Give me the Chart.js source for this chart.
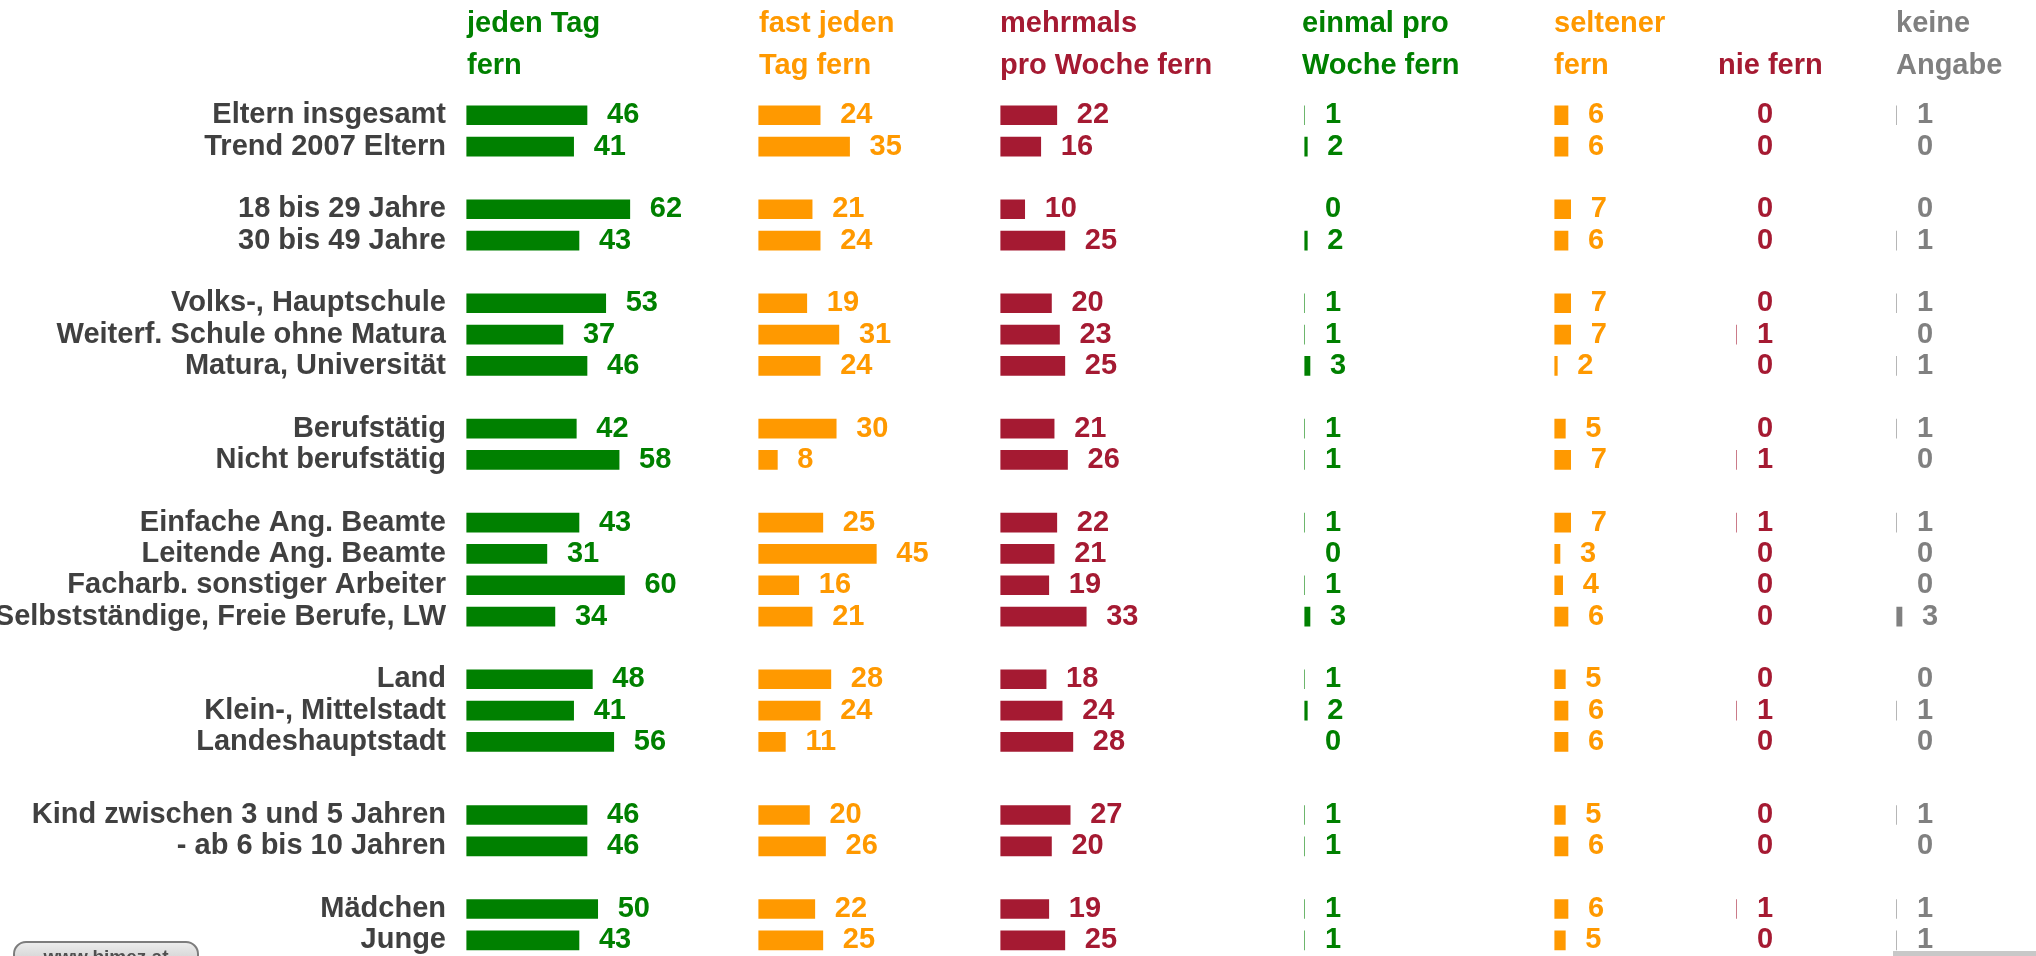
<!DOCTYPE html>
<html>
<head>
<meta charset="utf-8">
<script src="https://cdn.jsdelivr.net/npm/chart.js@4.4.1/dist/chart.umd.min.js"></script>
<style>
  html, body { margin: 0; padding: 0; background: #ffffff; overflow: hidden; }
  #wrap { position: relative; width: 2036px; height: 956px; overflow: hidden; }
  #c { position: absolute; left: 0; top: 0; }
  .btn { position: absolute; left: 13px; top: 941px; width: 186px; height: 40px; box-sizing: border-box;
         border: 2px solid #7d7d7d; border-radius: 13px; background: linear-gradient(#ececec, #b9b9b9);
         font: bold 19px "Liberation Sans", Arial, sans-serif; color: #505050; text-align: center; padding-top: 3px; }
  .strip { position: absolute; left: 1893px; top: 951px; width: 143px; height: 5px; background: #c8c8c8; }
</style>
</head>
<body>
<div id="wrap">
  <canvas id="c" width="2036" height="956"></canvas>
  <div class="btn">www.bimez.at</div>
  <div class="strip"></div>
</div>
<script>
// ---------- data ----------
const categories = [
  "Eltern insgesamt", "Trend 2007 Eltern",
  "18 bis 29 Jahre", "30 bis 49 Jahre",
  "Volks-, Hauptschule", "Weiterf. Schule ohne Matura", "Matura, Universität",
  "Berufstätig", "Nicht berufstätig",
  "Einfache Ang. Beamte", "Leitende Ang. Beamte", "Facharb. sonstiger Arbeiter", "Selbstständige, Freie Berufe, LW",
  "Land", "Klein-, Mittelstadt", "Landeshauptstadt",
  "Kind zwischen 3 und 5 Jahren", "- ab 6 bis 10 Jahren",
  "Mädchen", "Junge"
];
const groupSizes = [2, 2, 3, 2, 4, 3, 2, 2];

const seriesTitles = [
  ["jeden Tag", "fern"],
  ["fast jeden", "Tag fern"],
  ["mehrmals", "pro Woche fern"],
  ["einmal pro", "Woche fern"],
  ["seltener", "fern"],
  ["", "nie fern"],
  ["keine", "Angabe"]
];

const jedenTag      = [46, 41, 62, 43, 53, 37, 46, 42, 58, 43, 31, 60, 34, 48, 41, 56, 46, 46, 50, 43];
const fastJedenTag  = [24, 35, 21, 24, 19, 31, 24, 30,  8, 25, 45, 16, 21, 28, 24, 11, 20, 26, 22, 25];
const mehrmalsWoche = [22, 16, 10, 25, 20, 23, 25, 21, 26, 22, 21, 19, 33, 18, 24, 28, 27, 20, 19, 25];
const einmalWoche   = [ 1,  2,  0,  2,  1,  1,  3,  1,  1,  1,  0,  1,  3,  1,  2,  0,  1,  1,  1,  1];
const seltener      = [ 6,  6,  7,  6,  7,  7,  2,  5,  7,  7,  3,  4,  6,  5,  6,  6,  5,  6,  6,  5];
const nieFern       = [ 0,  0,  0,  0,  0,  1,  0,  0,  1,  1,  0,  0,  0,  0,  1,  0,  0,  0,  1,  0];
const keineAngabe   = [ 1,  0,  0,  1,  1,  0,  1,  1,  0,  1,  0,  0,  3,  0,  1,  0,  1,  0,  1,  1];

const seriesValues = [jedenTag, fastJedenTag, mehrmalsWoche, einmalWoche, seltener, nieFern, keineAngabe];

// ---------- styling / layout ----------
const GREEN = "#008000", ORANGE = "#ff9900", CRIMSON = "#a51a32", GRAY = "#808080", LABEL = "#404040";
const seriesColors = [GREEN, ORANGE, CRIMSON, GREEN, ORANGE, CRIMSON, GRAY];
const FONT_FAMILY = '"Liberation Sans", Arial, Helvetica, sans-serif';
const FONT_SIZE = 29;
const PX_PER_UNIT = 2.675;     // bar scale
const HIDDEN_UNITS = 1.14;     // bars in the original start being visible only above this value
const LABEL_AXIS_WIDTH = 467;
const LABEL_GAP = 20;
// column boxes: width of each column area and where its bars become visible inside it
const colWidths = [292, 241, 302, 252, 164, 178, 140];
const colBarInset = [0, 0, 1, 3, 1, 19, 1];

// rows are placed on a fine category grid (3 slots per row) so group gaps can be uneven
const SUB = 3;
const groupGaps = [3, 3, 3, 3, 3, 4, 3];

const slotLabels = [];
const slotRow = [];
{
  let pos = 0, r = 0;
  groupSizes.forEach((n, g) => {
    for (let i = 0; i < n; i++) {
      slotLabels[pos] = categories[r];
      slotRow[pos] = r;
      r++;
      if (i < n - 1) pos += SUB;
    }
    if (g < groupSizes.length - 1) pos += SUB + groupGaps[g];
  });
}
const nSlots = slotLabels.length;
const yLabels = [];
for (let i = 0; i < nSlots; i++) yLabels.push(slotLabels[i] === undefined ? "" : slotLabels[i]);

const datasets = seriesValues.map((vals, s) => ({
  label: seriesTitles[s].join(" ").trim(),
  data: yLabels.map((_, i) => slotRow[i] === undefined ? null : vals[slotRow[i]]),
  backgroundColor: seriesColors[s],
  borderWidth: 0,
  barThickness: 19,
  grouped: false,
  xAxisID: "x" + s,
  yAxisID: "y",
  labelColor: seriesColors[s],
  // clip relative to this column's own scale box: bars start showing at the column's bar start
  clip: { left: 0.6 - colBarInset[s], right: false, top: false, bottom: false }
}));

const scales = {
  y: {
    type: "category",
    position: "left",
    labels: yLabels,
    grid: { display: false, drawTicks: false },
    border: { display: false },
    ticks: {
      autoSkip: false,
      padding: 21,
      color: LABEL,
      font: { family: FONT_FAMILY, size: FONT_SIZE, weight: "bold" }
    },
    afterFit(scale) {
      scale.width = LABEL_AXIS_WIDTH;
      scale.paddingTop = 0;
      scale.paddingBottom = 0;
    }
  }
};
seriesValues.forEach((_, s) => {
  const min = HIDDEN_UNITS - colBarInset[s] / PX_PER_UNIT;
  scales["x" + s] = {
    type: "linear",
    position: "top",
    stack: "columns",
    stackWeight: colWidths[s],
    weight: seriesValues.length - s,
    min: min,
    max: min + colWidths[s] / PX_PER_UNIT,
    grid: { display: false, drawTicks: false },
    border: { display: false },
    ticks: { display: false },
    title: {
      display: true,
      text: seriesTitles[s],
      align: "start",
      color: seriesColors[s],
      font: { family: FONT_FAMILY, size: FONT_SIZE, weight: "bold", lineHeight: "42px" },
      padding: { top: 3, bottom: 23 }
    }
  };
});

const valueLabels = {
  id: "valueLabels",
  afterDatasetsDraw(chart) {
    const ctx = chart.ctx;
    ctx.save();
    ctx.font = "bold " + FONT_SIZE + "px " + FONT_FAMILY;
    ctx.textAlign = "left";
    ctx.textBaseline = "middle";
    chart.data.datasets.forEach((ds, i) => {
      const meta = chart.getDatasetMeta(i);
      const scale = chart.scales[ds.xAxisID];
      const visibleStart = scale.getPixelForValue(HIDDEN_UNITS);
      ctx.fillStyle = ds.labelColor;
      meta.data.forEach((el, j) => {
        const v = ds.data[j];
        if (v === null || v === undefined) return;
        const end = Math.max(el.x, visibleStart);
        ctx.fillText(String(v), end + LABEL_GAP, el.y);
      });
    });
    ctx.restore();
  }
};

new Chart(document.getElementById("c"), {
  type: "bar",
  data: { labels: yLabels, datasets: datasets },
  options: {
    indexAxis: "y",
    responsive: false,
    animation: false,
    devicePixelRatio: 1,
    layout: { padding: { top: 0, left: 0, right: 0, bottom: 10.4 } },
    plugins: { legend: { display: false }, tooltip: { enabled: false }, title: { display: false } },
    scales: scales
  },
  plugins: [valueLabels]
});
</script>
</body>
</html>
